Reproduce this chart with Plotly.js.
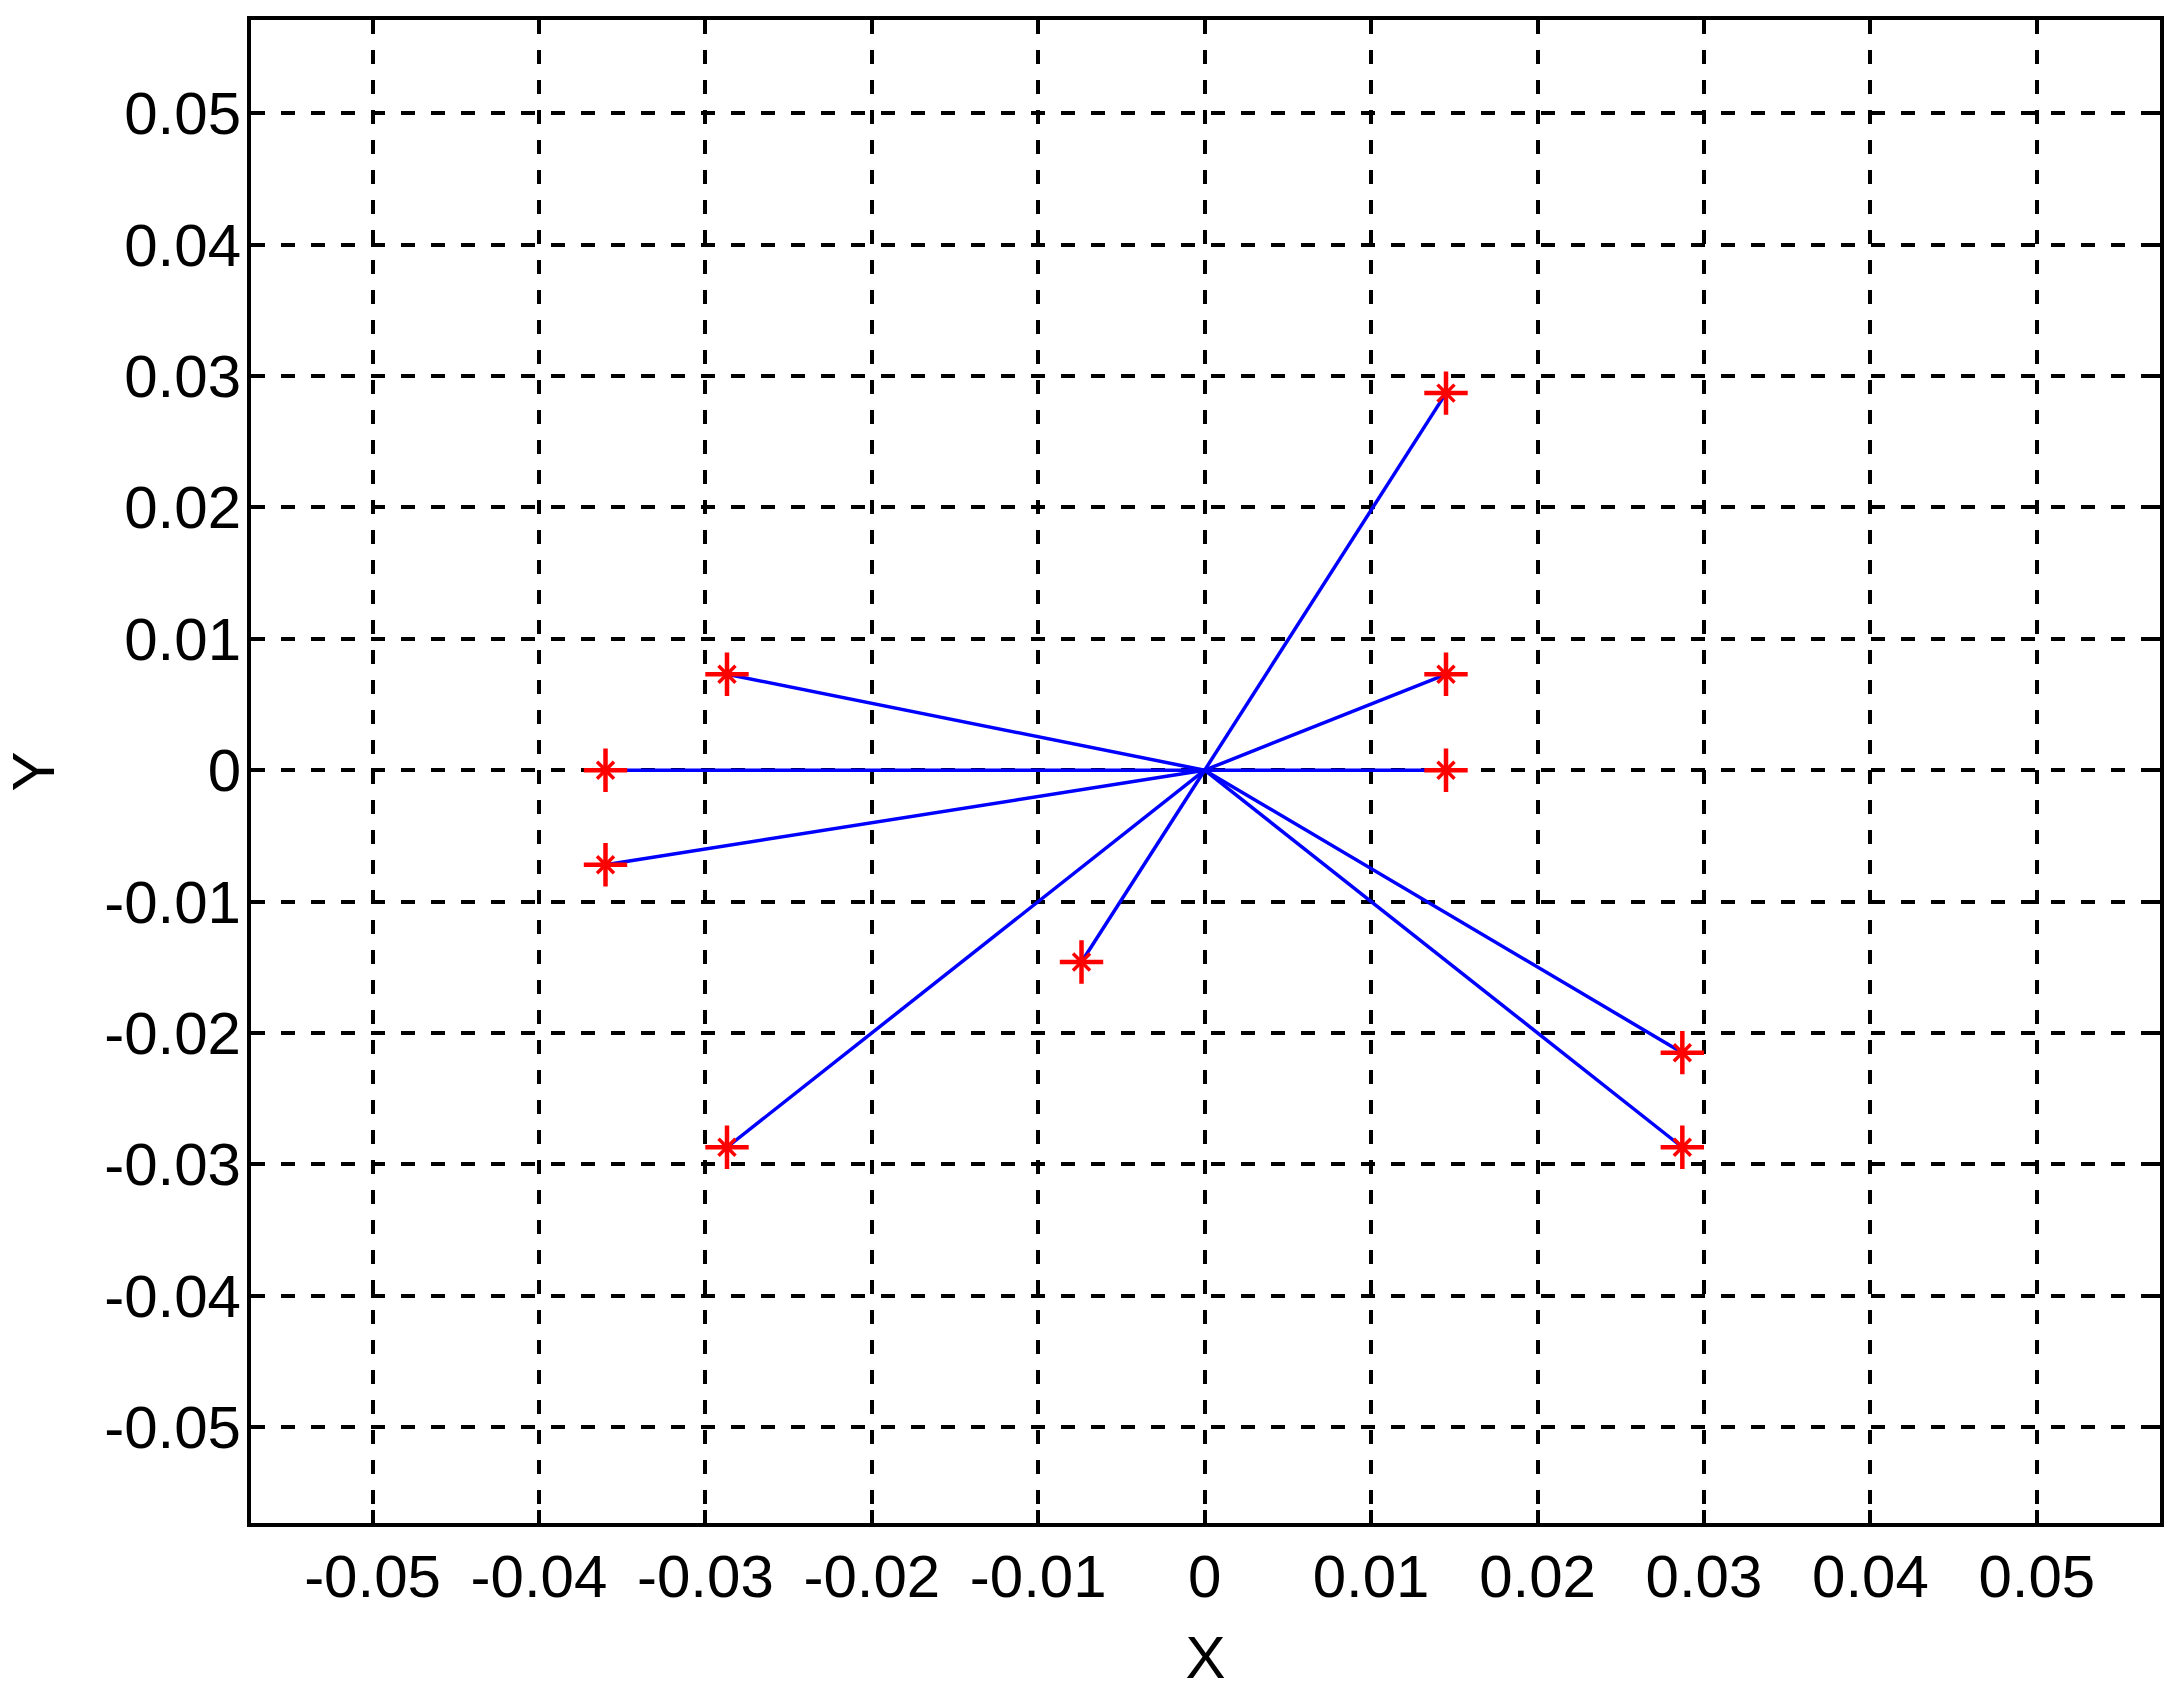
<!DOCTYPE html>
<html>
<head>
<meta charset="utf-8">
<script src="https://cdn.plot.ly/plotly-3.0.1.min.js"></script>
<style>
  html, body { margin: 0; padding: 0; background: #ffffff; }
  #chart { width: 2171px; height: 1691px; }
</style>
</head>
<body>
<div id="chart"></div>
<script>
// end points of the vectors (all drawn from the origin)
var pointX = [0.0145, 0.0145, 0.0145, 0.0287, 0.0287, -0.0074, -0.0287, -0.0360, -0.0360, -0.0287];
var pointY = [0.0287, 0.0073, 0, -0.0215, -0.0287, -0.0146, -0.0287, -0.0072, 0, 0.0073];
var originX = 0;
var originY = 0;

// tick labels, same on both axes
var tickVals = [-0.05, -0.04, -0.03, -0.02, -0.01, 0, 0.01, 0.02, 0.03, 0.04, 0.05];
var tickText = ['-0.05', '-0.04', '-0.03', '-0.02', '-0.01', '0', '0.01', '0.02', '0.03', '0.04', '0.05'];

// build one line trace with gaps between segments
var lineX = [];
var lineY = [];
for (var i = 0; i < pointX.length; i++) {
  lineX.push(originX, pointX[i], null);
  lineY.push(originY, pointY[i], null);
}

var lines = {
  type: 'scatter',
  mode: 'lines',
  x: lineX,
  y: lineY,
  line: {color: '#0000ff', width: 3.5},
  hoverinfo: 'skip'
};

// red star markers: a plus with short diagonals
var starCross = {
  type: 'scatter',
  mode: 'markers',
  x: pointX,
  y: pointY,
  marker: {symbol: 'cross-thin-open', size: 31, color: '#ff0000', line: {color: '#ff0000', width: 4.5}}
};
var starDiag = {
  type: 'scatter',
  mode: 'markers',
  x: pointX,
  y: pointY,
  marker: {symbol: 'x-thin-open', size: 17, color: '#ff0000', line: {color: '#ff0000', width: 3.5}}
};

var axisStyle = {
  tickmode: 'array',
  tickvals: tickVals,
  ticktext: tickText,
  ticks: 'inside',
  ticklen: 13,
  tickwidth: 4,
  tickcolor: '#000000',
  showline: true,
  linecolor: '#000000',
  linewidth: 4,
  mirror: 'ticks',
  showgrid: true,
  gridcolor: '#000000',
  gridwidth: 4,
  griddash: '14px,16px',
  zeroline: false,
  tickfont: {family: 'Liberation Sans, Arial, sans-serif', size: 60, color: '#000000'}
};

var layout = {
  width: 2171,
  height: 1691,
  margin: {l: 251, r: 11, t: 20, b: 168},
  paper_bgcolor: '#ffffff',
  plot_bgcolor: '#ffffff',
  showlegend: false,
  font: {family: 'Liberation Sans, Arial, sans-serif', color: '#000000'},
  xaxis: Object.assign({}, axisStyle, {
    range: [-0.0573, 0.0574],
    ticklabelstandoff: -2,
    title: {text: 'X', font: {size: 60}, standoff: 29}
  }),
  yaxis: Object.assign({}, axisStyle, {
    range: [-0.0573, 0.0571],
    ticklabelstandoff: -6,
    title: {text: 'Y', font: {size: 60}, standoff: 63}
  })
};

Plotly.newPlot('chart', [lines, starCross, starDiag], layout, {staticPlot: true});
</script>
</body>
</html>
